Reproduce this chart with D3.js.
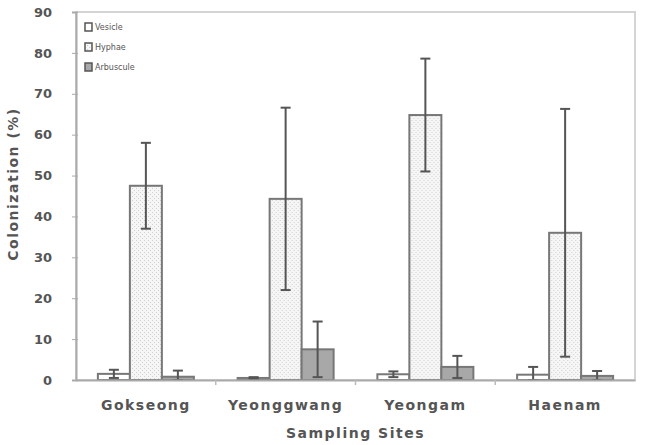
<!DOCTYPE html>
<html>
<head>
<meta charset="utf-8">
<script src="https://cdn.jsdelivr.net/npm/d3@7"></script>
<style>
  body { margin: 0; background: #fff; }
  svg text { font-family: "DejaVu Sans", sans-serif; fill: #555; }
</style>
</head>
<body>
<div id="chart"></div>
<script>
var sites = ["Gokseong", "Yeonggwang", "Yeongam", "Haenam"];
var seriesNames = ["Vesicle", "Hyphae", "Arbuscule"];
var vesicle = [1.5, 0.5, 1.4, 1.3];
var vesicleErr = [1.0, 0.2, 0.7, 1.9];
var hyphae = [47.5, 44.3, 64.8, 36.0];
var hyphaeErr = [10.5, 22.3, 13.8, 30.3];
var arbuscule = [0.8, 7.5, 3.2, 1.0];
var arbusculeErr = [1.5, 6.8, 2.7, 1.2];
var yTicks = [0, 10, 20, 30, 40, 50, 60, 70, 80, 90];

function charts() {
  var left = 76, right = 635, top = 12, bottom = 380;

  var svg = d3.select("#chart").append("svg")
    .attr("width", 647).attr("height", 445);

  var defs = svg.append("defs");
  var pat = defs.append("pattern")
    .attr("id", "dots").attr("patternUnits", "userSpaceOnUse")
    .attr("width", 4).attr("height", 4);
  pat.append("rect").attr("width", 4).attr("height", 4).attr("fill", "#f6f6f6");
  pat.append("rect").attr("x", 0).attr("y", 0).attr("width", 1).attr("height", 1).attr("fill", "#cfcfcf");
  pat.append("rect").attr("x", 2).attr("y", 2).attr("width", 1).attr("height", 1).attr("fill", "#cfcfcf");

  var fills = ["#fff", "url(#dots)", "#a8a8a8"];

  var rows = sites.map(function (s, i) {
    return [
      { key: 0, v: vesicle[i], e: vesicleErr[i] },
      { key: 1, v: hyphae[i], e: hyphaeErr[i] },
      { key: 2, v: arbuscule[i], e: arbusculeErr[i] }
    ];
  });

  var y = d3.scaleLinear().domain([0, 90]).range([bottom, top]);
  var x0 = d3.scaleBand().domain(sites).range([left, right]);
  var bw = 32;
  var gw = x0.bandwidth();
  var x1 = d3.scaleBand().domain([0, 1, 2])
    .range([(gw - bw * 3) / 2, (gw + bw * 3) / 2]);

  // frame
  svg.append("rect")
    .attr("x", left).attr("y", top)
    .attr("width", right - left).attr("height", bottom - top)
    .attr("fill", "none").attr("stroke", "#d4d4d4").attr("stroke-width", 2);

  // y axis
  var yAxis = svg.append("g")
    .attr("transform", "translate(" + left + ",0)")
    .call(d3.axisLeft(y).tickValues(yTicks).tickSize(4).tickPadding(20));
  yAxis.select(".domain").attr("stroke", "#aaa").attr("stroke-width", 2);
  yAxis.selectAll(".tick line").attr("stroke", "#aaa").attr("x2", 2).attr("x1", -4);
  yAxis.selectAll("text").style("font-size", "13px").style("font-weight", "bold").attr("fill", "#666");

  // bars
  var groups = svg.selectAll(".grp")
    .data(rows).enter().append("g")
    .attr("transform", function (d, i) { return "translate(" + x0(sites[i]) + ",0)"; });

  groups.selectAll("rect")
    .data(function (d) { return d; })
    .enter().append("rect")
    .attr("x", function (d) { return x1(d.key); })
    .attr("y", function (d) { return y(d.v); })
    .attr("width", bw)
    .attr("height", function (d) { return y(0) - y(d.v); })
    .attr("fill", function (d) { return fills[d.key]; })
    .attr("stroke", "#777")
    .attr("stroke-width", 2);

  // error bars
  var err = groups.selectAll(".err")
    .data(function (d) { return d; })
    .enter().append("g");
  err.append("line")
    .attr("x1", function (d) { return x1(d.key) + bw / 2; })
    .attr("x2", function (d) { return x1(d.key) + bw / 2; })
    .attr("y1", function (d) { return y(Math.max(0, d.v - d.e)); })
    .attr("y2", function (d) { return y(d.v + d.e); })
    .attr("stroke", "#555").attr("stroke-width", 2);
  err.selectAll(".cap")
    .data(function (d) { return [Math.max(0, d.v - d.e), d.v + d.e].map(function (v) { return { k: d.key, v: v }; }); })
    .enter().append("line")
    .attr("x1", function (d) { return x1(d.k) + bw / 2 - 5; })
    .attr("x2", function (d) { return x1(d.k) + bw / 2 + 5; })
    .attr("y1", function (d) { return y(d.v); })
    .attr("y2", function (d) { return y(d.v); })
    .attr("stroke", "#555").attr("stroke-width", 2);

  // x axis
  var xAxis = svg.append("g")
    .attr("transform", "translate(0," + bottom + ")")
    .call(d3.axisBottom(x0).tickSize(0).tickPadding(20));
  xAxis.select(".domain").attr("stroke", "#aaa").attr("stroke-width", 2);
  xAxis.selectAll("text").style("font-size", "14px").style("font-weight", "bold")
    .style("letter-spacing", "1.5px").attr("fill", "#666");
  svg.selectAll(".sep")
    .data(sites.slice(1)).enter().append("line")
    .attr("x1", function (d) { return x0(d); })
    .attr("x2", function (d) { return x0(d); })
    .attr("y1", bottom).attr("y2", bottom + 5)
    .attr("stroke", "#bbb").attr("stroke-width", 1.5);

  // axis titles
  svg.append("text")
    .attr("x", (left + right) / 2).attr("y", 438)
    .attr("text-anchor", "middle")
    .style("font-size", "14px").style("font-weight", "bold").style("letter-spacing", "1.5px")
    .attr("fill", "#666")
    .text("Sampling Sites");
  svg.append("text")
    .attr("transform", "translate(18,184) rotate(-90)")
    .attr("text-anchor", "middle")
    .style("font-size", "14px").style("font-weight", "bold").style("letter-spacing", "1.5px")
    .attr("fill", "#666")
    .text("Colonization (%)");

  // legend
  var leg = svg.append("g").attr("transform", "translate(85,23)");
  seriesNames.forEach(function (name, i) {
    var g = leg.append("g").attr("transform", "translate(0," + i * 20 + ")");
    g.append("rect").attr("width", 7).attr("height", 8)
      .attr("fill", fills[i]).attr("stroke", "#555").attr("stroke-width", 1.5);
    g.append("text").attr("x", 10).attr("y", 7)
      .style("font-size", "8px").attr("fill", "#888").text(name);
  });
}

charts();
</script>
</body>
</html>
